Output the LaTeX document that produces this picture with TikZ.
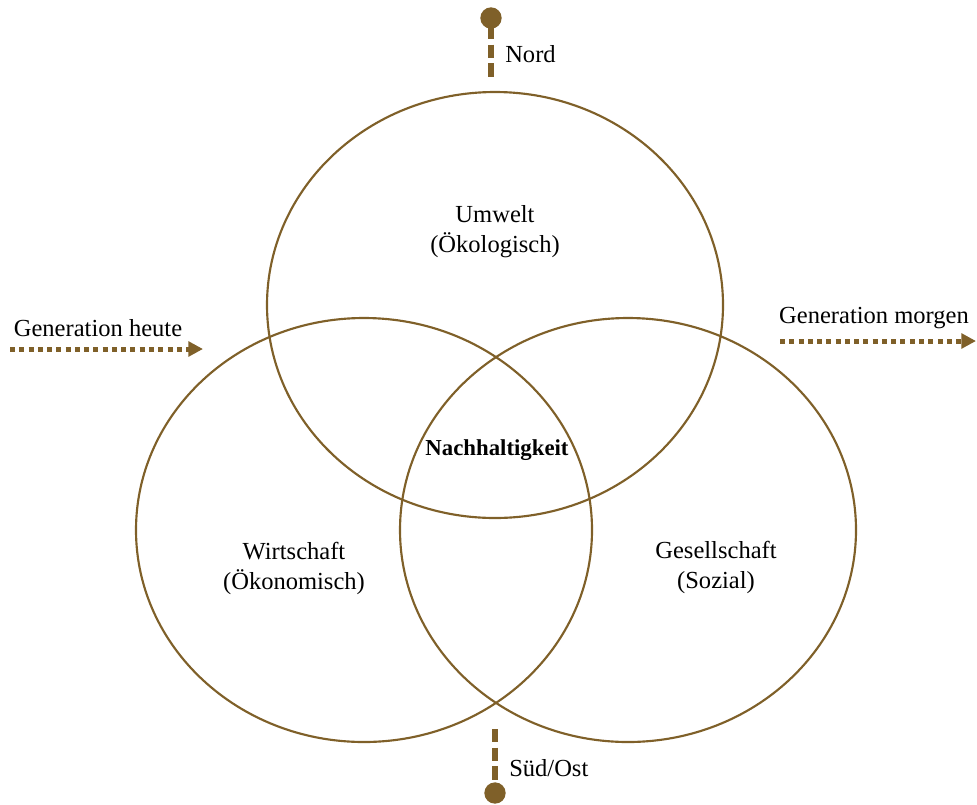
\documentclass[tikz,border=0pt]{standalone}
\usepackage{fontspec}
\setmainfont{Liberation Serif}
\usetikzlibrary{arrows.meta}
\definecolor{brownline}{HTML}{7F6029}
\tikzset{
  ring/.style={draw=brownline, line width=1.6pt},
  lbl/.style={font=\fontsize{18.4}{22.5}\selectfont, align=center, text=black, inner sep=0pt},
  genarrow/.style={draw=brownline, line width=3.75pt, dash pattern=on 3.75pt off 3.2pt,
    -{Triangle[length=11pt,width=11pt,fill=brownline]}},
  polemark/.style={draw=brownline, line width=3.8pt, dash pattern=on 10pt off 4pt},
  poledot/.style={circle, fill=brownline, minimum size=16pt, inner sep=0pt}
}
\begin{document}
\begin{tikzpicture}[x=0.75pt,y=-0.75pt]
\useasboundingbox (0,0) rectangle (977,804);
% ellipses
\draw[ring] (495,305) ellipse [x radius=228, y radius=213];
\draw[ring] (364,530) ellipse [x radius=228, y radius=212];
\draw[ring] (628,530) ellipse [x radius=228, y radius=212];
% labels
\node[lbl] (umw) at (495,232) {Umwelt\\(Ökologisch)};
\node[lbl] (wir) at (294,568) {Wirtschaft\\(Ökonomisch)};
\node[lbl] (ges) at (716,567) {Gesellschaft\\(Sozial)};
\node[lbl, font=\fontsize{17.1}{20}\selectfont\bfseries] (nach) at (497,450) {Nachhaltigkeit};
% generation arrows
\node[lbl] (gh) at (98,328) {Generation heute};
\coordinate (ghs) at (10,349);
\coordinate (ghe) at (203,349);
\draw[genarrow] (ghs) -- (ghe);
\node[lbl] (gm) at (874,318) {Generation morgen};
\coordinate (gms) at (780,341);
\coordinate (gme) at (976,341);
\draw[genarrow] (gms) -- (gme);
% north
\node[poledot] (nd) at (491,18) {};
\coordinate (ne) at (491,79);
\draw[polemark] (nd.center) ++(0,8) -- (ne);
\node[lbl, anchor=west] (nord) at (505,54) {Nord};
% south
\node[poledot] (sd) at (495,793) {};
\coordinate (ss) at (495,729);
\draw[polemark] (ss) -- (sd.center);
\node[lbl, anchor=west] (sued) at (509,768) {Süd/Ost};
\end{tikzpicture}
\end{document}
